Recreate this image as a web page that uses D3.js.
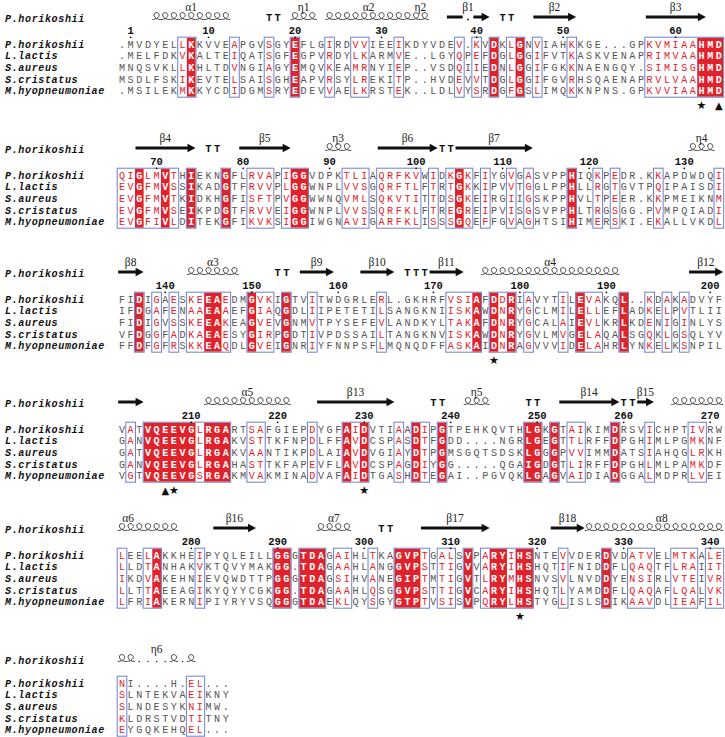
<!DOCTYPE html>
<html><head><meta charset="utf-8">
<script src="https://cdn.jsdelivr.net/npm/d3@7"></script>
<style>body{margin:0;background:#fff}</style>
</head><body><svg id="chart" width="725" height="737"></svg>
<script>
// ---------------- data ----------------
const species = ["P.horikoshii","L.lactis","S.aureus","S.cristatus","M.hyopneumoniae"];
const seqPhorikoshii = [
 ".MVDYELLKKVVEAPGVSGYEFLGIRDVVIEEIKDYVDEV.KVDKLGNVIAHKKGE...GPKVMIAAHMD",
 "QIGLMVTHIEKNGFLRVAPIGGVDPKTLIAQRFKVWIDKGKFIYGVGASVPPHIQKPEDR.KKAPDWDQI",
 "FIDIGAESKEEAEDMGVKIGTVITWDGRLERL.GKHRFVSIAFDDRIAVYTILEVAKQL..KDAKADVYF",
 "VATVQEEVGLRGARTSAFGIEPDYGFAIDVTIAADIPGTPEHKQVTHLGKGTAIKIMDRSVICHPTIVRW",
 "LEELAKKHEIPYQLEILLGGGTDAGAIHLTKAGVPTGALSVPARYIHSNTEVVDERDVDATVELMTKALE",
 "NI....H.EL..."];
const seqLlactis = [
 ".MELFDKVKALTEIQATSGFEGPVRDYLKARMVE..LGYQPEFDGLGGIFVTKASKVENAPRIMVAAHMD",
 "EVGFMVSSIKADGTFRVVPLGGWNPLVVSGQRFTLFTRTGKKIPVVTGGLPPHLLRGTGVTPQIPAISDI",
 "IFDGAFENAAEAAEFGIAQGDLIIPETETILSANGKNIISKAWDNRYGCLMILELLEFLADKELPVTLII",
 "GANVQEEVGLRGAKVSTTKFNPDLFFAVDCSPASDTFGDD....NGRLGEGTTLRFFDPGHIMLPGMKNF",
 "LLDTANHAKVKTQVYMAKGG.TDAGAAHLANGGVPSTTIGVVARYIHSHQTIFNIDDFLQAQTFLRAIIT",
 "SLNTEKVAEIKNY"];
const seqSaureus = [
 "MNQSVKLLKHLTDVNGIAGYEMQVKEAMRNYIEP..VSDQIIEDNLGGIFGKKNAENGQY.SIMISGHMD",
 "EVGFMVTKIDKHGFISFTPVGGWWNQVMLSQKVTITTDSGKEIRGIIGSKPPHVLTPEER.KKPMEIKNM",
 "FIDIGVSSKEEAKEAGVEVGNMVTPYSEFEVLANDKYLTAKAFDNRYGCALAIEVLKRLKDENIGINLYS",
 "GATVQEEVGLRGAKVAANTIKPDLAIAVDVGIAYDTPGMSGQTSDSKLGGGPVVIMMDATSIAHQGLRKH",
 "IKDVAKEHNIEVQWDTTPGGGTDAGSIHVANEGIPTMTIGVTLRYMHSNVSVLNVDDYENSIRLVTEIVR",
 "SLNDESYKNIMW."];
const seqScristatus = [
 "MSDLFSKIKEVTELSAISGHEAPVRSYLREKITP..HVDEVVTDGLGGIFGVRHSQAENAPRVLVAAHMD",
 "EVGFMVSEIKPDGTFRVVEIGGWNPLVVSSQRFKLFTREGREIPVISGSVPPHLTRGSGG.PVMPQIADI",
 "VFDGGFADKAEAESYGIRPGDTIVPDSSAILTANGKNVISKAWDNRYGVLMVGELAQALSGQKLGSQLYV",
 "GANVQEEVGLRGAHASTTKFAPEVFLAVDCSPAGDIYGG.....QGAIGDGTLIRFFDPGHLMLPAMKDF",
 "LLTTAEEAGIKYQYYCGKGG.TDAGAAHLQSGGVPSTTIGVCARYIHSHQTLYAMDDFLQAQAFLQALVK",
 "KLDRSTVDTITNY"];
const seqMhyopneumoniae = [
 ".MSILEKMKKYCDIDGMSRYEDEVVAELKRSTEK..LDLVYSRDGFGSLIMQKKNPNS.GPKVVIAAHMD",
 "EVGFIVLDITEKGFIKVKSIGGIWGNAVIGARFKLISSSGQEFFGVAGHTSIHIMERSKI.EKALLVKDL",
 "FFDFGFRSKKEAQDLGVEIGNRIYFNNPSFLMQNQDFFASKAIDNRAGVVVIDELAHRLYNKELKSNPIL",
 "VGTVQEEVGSRGAKMVAKMINADVAFAIDTGASHDTEGAI..PGVQKLGAGVAIDIADGGALMDPRLVEI",
 "LFRIAKERNIPIYRYVSQGGGTDAEKLQYSGYGTPTVSISVPQRYLHSTYGLISLSDIKAAVDLIEAFIL",
 "EYGQKEHQEL..."];
// F = strictly conserved (white on red), r = similar (red letter), . = other
const conservation = [
 ".......rF....r...r..F...r..rr...r......r.r.F.rF.r...r........rrrrrrFFF",
 "rrFrrFr.F...F..rrr.rFF....rrr.rrrrr.r.rFr.r..r.r....F..r.r....r......r",
 "..F.r.r.rrFFr..Frr.F..r.......r.......rrrF.FrF.r...r.Frr..F..r.r.r....",
 ".r.FFFFFFrFFF..rr.....r...FrF...r.Fr.F.........FF.F.rr...F...r....rr..",
 "r..rF....r........FF.FFF.rr..r..FFFr.rr.F.rFFrFF...r....F..rrr..rrr.rr",
 "r.......rr..."];
const tickLabels = [[1,10,20,30,40,50,60],[70,80,90,100,110,120,130],[140,150,160,170,180,190,200],
 [210,220,230,240,250,260,270],[280,290,300,310,320,330,340],[]];
const markers = [
 [{col:67,sym:"★"},{col:69,sym:"▲"}], [], [{col:43,sym:"★"}],
 [{col:5,sym:"▲"},{col:6,sym:"★"},{col:28,sym:"★"}], [{col:46,sym:"★"}], []];
const secondary = [
 [{t:"helix",s:4,e:12,label:"α1"},{t:"turn",s:17,e:18},{t:"helix",s:20,e:22,label:"η1"},
  {t:"helix",s:24,e:33,label:"α2"},{t:"helix",s:34,e:35,label:"η2"},{t:"strand",s:38,e:42,label:"β1"},
  {t:"turn",s:44,e:45},{t:"strand",s:48,e:52,label:"β2"},{t:"strand",s:61,e:67,label:"β3"}],
 [{t:"strand",s:2,e:8,label:"β4"},{t:"turn",s:10,e:11},{t:"strand",s:14,e:19,label:"β5"},
  {t:"helix",s:24,e:26,label:"η3"},{t:"strand",s:30,e:36,label:"β6"},{t:"turn",s:37,e:38},
  {t:"strand",s:39,e:47,label:"β7"},{t:"helix",s:66,e:68,label:"η4"}],
 [{t:"strand",s:0,e:2,label:"β8"},{t:"helix",s:8,e:13,label:"α3"},{t:"turn",s:18,e:19},
  {t:"strand",s:21,e:24,label:"β9"},{t:"strand",s:28,e:31,label:"β10"},{t:"turn",s:33,e:35},
  {t:"strand",s:36,e:39,label:"β11"},{t:"helix",s:42,e:57,label:"α4"},{t:"strand",s:66,e:69,label:"β12"}],
 [{t:"strand",s:0,e:2},{t:"helix",s:10,e:19,label:"α5"},{t:"strand",s:23,e:31,label:"β13"},
  {t:"turn",s:36,e:37},{t:"helix",s:40,e:42,label:"η5"},{t:"turn",s:47,e:48},
  {t:"strand",s:51,e:57,label:"β14"},{t:"turn",s:58,e:59},{t:"strand",s:60,e:61,label:"β15"},
  {t:"helix",s:64,e:69}],
 [{t:"helix",s:0,e:6,label:"α6",at:0.7},{t:"strand",s:11,e:15,label:"β16"},{t:"helix",s:23,e:26,label:"α7"},
  {t:"turn",s:30,e:31},{t:"strand",s:35,e:42,label:"β17"},{t:"strand",s:50,e:53,label:"β18"},
  {t:"helix",s:54,e:69,label:"α8",at:62.4}],
 [{t:"helix",s:0,e:8,label:"η6"}]];

// ---------------- layout ----------------
const allSeqs = [seqPhorikoshii, seqLlactis, seqSaureus, seqScristatus, seqMhyopneumoniae];
const svg = d3.select("#chart");
const colW = 8.65;
const x = d3.scaleBand().domain(d3.range(70)).range([122 - colW/2, 122 - colW/2 + 70*colW]);
const cx = i => x(i) + x.bandwidth()/2;
const blockY = [18,149,273,403,529,660];
const rowStep = 11.6;
const RED = "#e0232b", BLUE = "#6f7fc9", GREY = "#555";
const monoFont = "'Liberation Mono', 'DejaVu Sans Mono', monospace";
const seqSize = 10.1;

// residue numbering of the reference (top) sequence
const residueAt = [];
let num = 0;
seqPhorikoshii.forEach(s => { const arr = []; for (const ch of s) { if (ch !== ".") num++; arr.push(ch === "." ? null : num); } residueAt.push(arr); });

function runs(str, test) {
  const out = []; let st = -1;
  for (let i = 0; i <= str.length; i++) {
    const ok = i < str.length && test(str[i]);
    if (ok && st < 0) st = i;
    if (!ok && st >= 0) { out.push([st, i - 1]); st = -1; }
  }
  return out;
}

function coilPath(c, y) {
  return `M${c-4.33},${y+2.5} C${c-1},${y+2.5} ${c+3},${y+0.5} ${c+2.6},${y-2.2}` +
         ` C${c+2.2},${y-5.2} ${c-3},${y-5.2} ${c-2.6},${y-1.8}` +
         ` C${c-2.2},${y+1.2} ${c+1},${y+2.5} ${c+4.33},${y+2.5}`;
}

blockY.forEach((ss, b) => {
  const g = svg.append("g");
  const hasNum = tickLabels[b].length > 0;
  const row0 = ss + (hasNum ? 26 : 23);
  const rowY = r => row0 + r * rowStep;
  const top = rowY(0) - 6.3, bot = rowY(4) + 6.3;
  const cons = conservation[b];
  const bw = x.bandwidth();

  // fills (strict identity)
  runs(cons, c => c === "F").forEach(([s, e]) => {
    g.append("rect").attr("x", x(s)).attr("y", top).attr("width", (e - s + 1) * bw)
      .attr("height", bot - top).attr("fill", RED);
  });
  // frames (similarity groups)
  runs(cons, c => c !== ".").forEach(([s, e]) => {
    g.append("rect").attr("x", x(s) - 0.5).attr("y", top - 0.5).attr("width", (e - s + 1) * bw + 1)
      .attr("height", bot - top + 1).attr("fill", "none").attr("stroke", BLUE).attr("stroke-width", 1);
  });

  // sequences
  allSeqs.forEach((seqs, r) => {
    const s = seqs[b];
    g.append("text").attr("x", 5).attr("y", rowY(r) + 3.8)
      .attr("font-family", monoFont).attr("font-size", seqSize).attr("font-weight", "bold")
      .attr("font-style", "italic").attr("letter-spacing", 0.6).attr("fill", "#111").text(species[r]);
    g.selectAll(null).data(s.split("").map((ch, i) => ({ch, i, c: cons[i]})))
      .join("text")
      .attr("x", d => cx(d.i)).attr("y", rowY(r) + 3.8)
      .attr("text-anchor", "middle").attr("font-family", monoFont).attr("font-size", seqSize)
      .attr("font-weight", d => d.c === "F" ? "bold" : "normal")
      .attr("fill", d => d.c === "F" ? "#fff" : d.c === "r" ? RED : GREY)
      .text(d => d.ch);
  });

  // header: reference name
  g.append("text").attr("x", 5).attr("y", ss + 4)
    .attr("font-family", monoFont).attr("font-size", seqSize).attr("font-weight", "bold")
    .attr("font-style", "italic").attr("letter-spacing", 0.6).attr("fill", "#111").text(species[0]);

  // tick numbers
  tickLabels[b].forEach(t => {
    const col = residueAt[b].indexOf(t);
    if (col < 0) return;
    g.append("text").attr("x", cx(col)).attr("y", ss + 15.5).attr("text-anchor", "middle")
      .attr("font-family", monoFont).attr("font-size", 10.5).attr("font-weight", "bold")
      .attr("fill", "#111").text(t);
    g.append("circle").attr("cx", cx(col)).attr("cy", ss + 19.3).attr("r", 0.9).attr("fill", "#111");
  });

  // secondary structure
  const ref = seqPhorikoshii[b];
  const ly = ss - 1;
  secondary[b].forEach(el => {
    if (el.t === "helix") {
      for (let i = el.s; i <= el.e; i++) {
        if (ref[i] === ".") {
          g.append("circle").attr("cx", cx(i)).attr("cy", ly + 2.5).attr("r", 0.8).attr("fill", "#333");
        } else {
          g.append("path").attr("d", coilPath(cx(i), ly)).attr("fill", "none")
            .attr("stroke", "#333").attr("stroke-width", 0.9);
        }
      }
    } else if (el.t === "strand") {
      const x0 = x(el.s) + 0.5, x1 = x(el.e) + bw;
      const gaps = d3.range(el.s, el.e + 1).filter(i => ref[i] === ".");
      let segStart = x0;
      gaps.forEach(i => {
        g.append("rect").attr("x", segStart).attr("y", ly - 1.5).attr("width", x(i) - segStart - 1).attr("height", 3).attr("fill", "#111");
        g.append("circle").attr("cx", cx(i)).attr("cy", ly + 2.5).attr("r", 0.9).attr("fill", "#111");
        segStart = x(i) + bw + 1;
      });
      g.append("rect").attr("x", segStart).attr("y", ly - 1.5).attr("width", Math.max(0, x1 - 7 - segStart)).attr("height", 3).attr("fill", "#111");
      g.append("path").attr("d", `M${x1-8},${ly-4.2} L${x1},${ly} L${x1-8},${ly+4.2} Z`).attr("fill", "#111");
    } else if (el.t === "turn") {
      for (let i = el.s; i <= el.e; i++) {
        g.append("text").attr("x", cx(i)).attr("y", ly + 3.5).attr("text-anchor", "middle")
          .attr("font-family", monoFont).attr("font-size", 10.5).attr("font-weight", "bold")
          .attr("fill", "#111").text("T");
      }
    }
    if (el.label) {
      const at = el.at !== undefined ? el.at : (el.s + el.e) / 2;
      g.append("text").attr("x", 122 + at * colW).attr("y", ss - 6.8).attr("text-anchor", "middle")
        .attr("font-family", "'Liberation Serif', 'DejaVu Serif', serif").attr("font-size", 11.5)
        .attr("fill", "#222").text(el.label);
    }
  });

  // markers
  markers[b].forEach(m => {
    g.append("text").attr("x", cx(m.col)).attr("y", rowY(4) + 18.5).attr("text-anchor", "middle")
      .attr("font-family", "'DejaVu Sans', sans-serif").attr("font-size", m.sym === "▲" ? 10 : 11)
      .attr("fill", "#111").text(m.sym);
  });
});
</script>
</body></html>
